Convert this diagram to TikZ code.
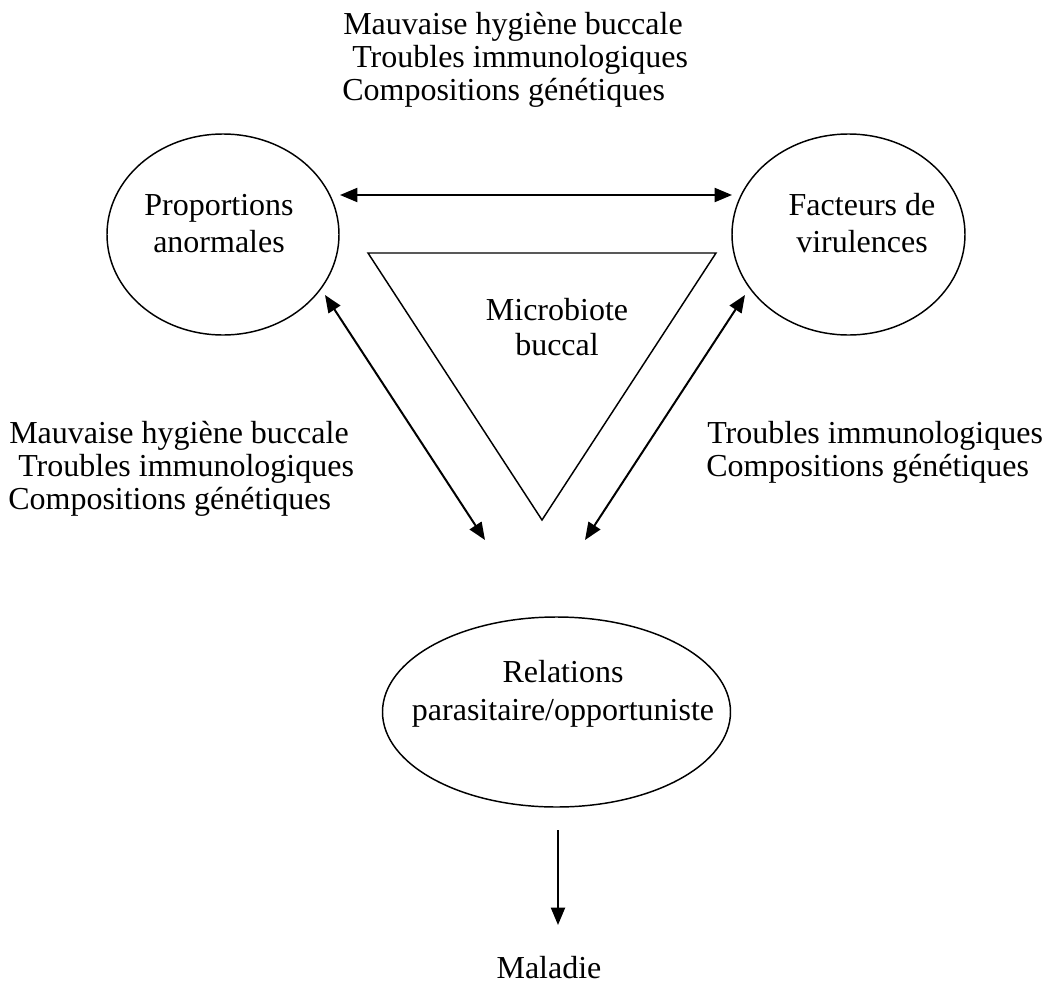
\documentclass[tikz,border=0pt]{standalone}
\usepackage{fontspec}
\setmainfont{Liberation Serif}
\usetikzlibrary{shapes.geometric,arrows.meta}
\begin{document}
\begin{tikzpicture}[x=0.75pt,y=-0.75pt,
  txt/.style={inner sep=0pt,font=\fontsize{24}{25}\selectfont},
  oval/.style={draw,ellipse,line width=1.1pt,inner sep=0pt},
  link/.style={line width=1.5pt,-{Triangle[length=13pt,width=10.5pt]}},
  dlink/.style={line width=1.5pt,{Triangle[length=13pt,width=10.5pt]}-{Triangle[length=13pt,width=10.5pt]}}]
\useasboundingbox (0,0) rectangle (1047,985);
% ellipses
\node[oval,minimum width=174pt,minimum height=150.75pt] (prop) at (223,234.5) {};
\node[oval,minimum width=174.75pt,minimum height=150.75pt] (fact) at (848.5,234.5) {};
\node[oval,minimum width=261pt,minimum height=142.5pt] (rel) at (556.5,712) {};
% triangle
\coordinate (tA) at (368,253);
\coordinate (tB) at (716,253);
\coordinate (tC) at (542,520);
\draw[line width=1.1pt,line join=miter] (tA) -- (tB) -- (tC) -- cycle;
% texts in shapes
\node[txt,anchor=base] (p1) at (219,215) {Proportions};
\node[txt,anchor=base] (p2) at (219,252) {anormales};
\node[txt,anchor=base] (f1) at (862,215) {Facteurs de};
\node[txt,anchor=base] (f2) at (862,252) {virulences};
\node[txt,anchor=base] (m1) at (557,320) {Microbiote};
\node[txt,anchor=base] (m2) at (557,355) {buccal};
\node[txt,anchor=base] (r1) at (563,682) {Relations};
\node[txt,anchor=base] (r2) at (563,720) {parasitaire/opportuniste};
\node[txt,anchor=base] (mal) at (549,978) {Maladie};
% top labels
\node[txt,anchor=base west] (t1) at (343,34) {Mauvaise hygiène buccale};
\node[txt,anchor=base west] (t2) at (352,67) {Troubles immunologiques};
\node[txt,anchor=base west] (t3) at (342,100) {Compositions génétiques};
% left labels
\node[txt,anchor=base west] (l1) at (9,443) {Mauvaise hygiène buccale};
\node[txt,anchor=base west] (l2) at (18,476) {Troubles immunologiques};
\node[txt,anchor=base west] (l3) at (8,509) {Compositions génétiques};
% right labels
\node[txt,anchor=base west] (g1) at (707,443) {Troubles immunologiques};
\node[txt,anchor=base west] (g2) at (706,476) {Compositions génétiques};
% arrow end points
\coordinate (hA) at (340,195);
\coordinate (hB) at (732,195);
\coordinate (lA) at (325,295);
\coordinate (lB) at (485,540);
\coordinate (rA) at (745,295);
\coordinate (rB) at (585,540);
\coordinate (dA) at (558,830);
\coordinate (dB) at (558,925);
\draw[dlink] (hA) -- (hB);
\draw[dlink] (lA) -- (lB);
\draw[dlink] (rA) -- (rB);
\draw[link] (dA) -- (dB);
\end{tikzpicture}
\end{document}
